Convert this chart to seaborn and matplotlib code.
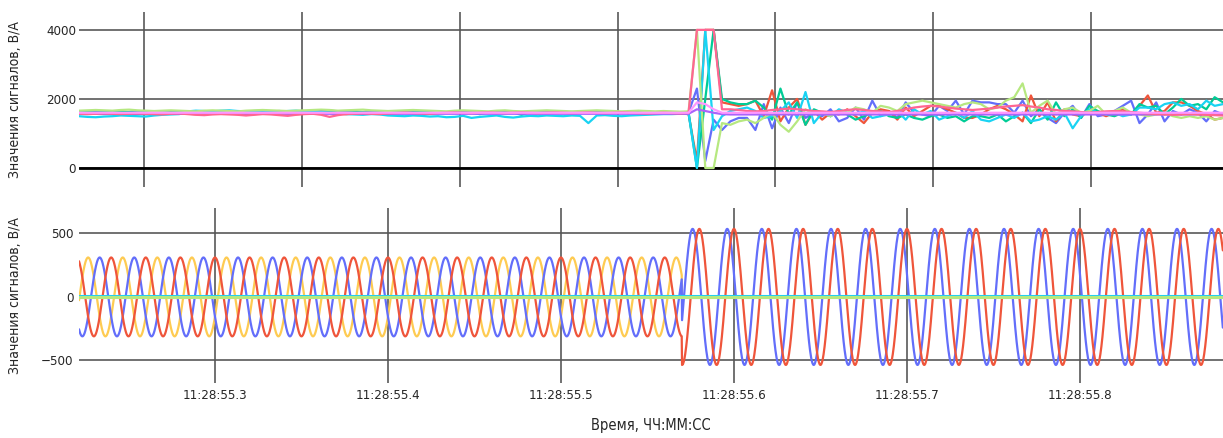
import numpy as np
import pandas as pd
import matplotlib
matplotlib.use("Agg")
import matplotlib.pyplot as plt
from matplotlib.ticker import FuncFormatter
import seaborn as sns

# ---- top panel: sample values (index = sample number) ----
blue = [1600,1610,1620,1630,1610,1600,1620,1640,1620,1610,
        1600,1610,1630,1620,1600,1610,1620,1630,1640,1620,
        1610,1600,1620,1640,1650,1630,1620,1610,1630,1650,
        1660,1640,1620,1610,1600,1620,1640,1630,1610,1600,
        1620,1630,1620,1610,1600,1610,1630,1640,1620,1600,
        1610,1620,1610,1600,1620,1630,1610,1600,1610,1620,
        1600,1610,1620,1630,1610,1600,1620,1610,1600,1610,
        1620,1610,1600,1610,
        2300,200,1400,1100,
        1350,1450,1450,1100,1850,1150,1750,1300,1900,1450,
        1600,1500,1700,1350,1450,1750,1400,1950,1500,1650,
        1450,1900,1600,1550,1500,1800,1650,1950,1550,1950,
        1900,1900,1850,1850,1600,1950,1500,1700,1450,1300,
        1600,1800,1450,1850,1500,1550,1650,1800,1950,1300,
        1550,1900,1350,1650,1550,1700,1600,1350,1650,1550]
red = [1580,1590,1580,1570,1580,1590,1580,1570,1560,1580,
       1590,1600,1580,1570,1560,1580,1600,1590,1580,1560,
       1550,1560,1580,1590,1600,1580,1560,1570,1590,1600,
       1590,1570,1560,1580,1600,1590,1570,1580,1600,1620,
       1600,1590,1580,1600,1620,1610,1590,1600,1610,1600,
       1590,1600,1620,1610,1600,1590,1600,1610,1620,1610,
       1600,1590,1600,1620,1610,1600,1590,1600,1610,1600,
       1590,1600,1580,1560,
       200,4000,4000,1900,
       1850,1800,1850,1950,1500,2250,1350,1750,2000,1250,
       1650,1400,1600,1550,1700,1500,1300,1600,1700,1650,
       1400,1750,1500,1650,1800,1800,1700,1600,1450,1450,
       1550,1700,1800,1700,1550,1350,2100,1500,1900,1350,
       1700,1550,1500,1650,1600,1500,1600,1700,1550,1800,
       2100,1600,1650,1900,1900,1800,1650,1550,1400,1450]
green = [1610,1620,1600,1610,1620,1630,1610,1600,1620,1610,
         1600,1610,1620,1610,1600,1620,1630,1620,1600,1610,
         1620,1610,1600,1610,1630,1620,1610,1600,1610,1620,
         1630,1610,1600,1620,1610,1600,1610,1620,1610,1600,
         1610,1630,1620,1600,1610,1620,1610,1600,1560,1610,
         1620,1600,1610,1540,1620,1610,1600,1610,1620,1610,
         1600,1610,1620,1610,1600,1610,1620,1610,1600,1610,
         1620,1610,1600,1600,
         0,2000,4000,2000,
         1900,1850,1850,1950,1750,1400,2300,1550,1900,1250,
         1700,1600,1500,1650,1550,1400,1500,1600,1650,1500,
         1450,1550,1450,1400,1500,1550,1450,1500,1350,1500,
         1500,1450,1550,1350,1500,1600,1300,1700,1400,1900,
         1500,1700,1450,1800,1650,1550,1500,1600,1550,1850,
         1750,1800,1550,1750,2000,1800,1850,1700,2050,1900]
cyan = [1500,1480,1470,1490,1500,1520,1510,1500,1490,1520,
        1540,1550,1560,1640,1660,1650,1640,1660,1670,1650,
        1640,1650,1660,1640,1630,1650,1660,1640,1630,1620,
        1600,1580,1560,1550,1540,1560,1550,1520,1510,1500,
        1520,1510,1490,1500,1470,1480,1510,1450,1480,1500,
        1520,1480,1460,1490,1510,1500,1520,1510,1500,1520,
        1510,1300,1520,1530,1510,1500,1520,1530,1540,1550,
        1560,1560,1570,1580,
        0,4000,1100,1500,
        1650,1700,1750,1650,1450,1500,1650,1900,1450,2200,
        1300,1600,1500,1700,1600,1550,1650,1450,1500,1550,
        1650,1400,1700,1550,1650,1400,1500,1600,1450,1650,
        1400,1350,1450,1550,1450,1600,1350,1400,1500,1400,
        1600,1150,1500,1700,1600,1550,1600,1500,1550,1750,
        1750,1700,1850,1900,1800,1850,1700,1950,1800,1850]
lightgreen = [1660,1670,1680,1670,1660,1680,1690,1670,1660,1650,
              1660,1670,1660,1650,1640,1660,1670,1660,1650,1640,
              1660,1670,1680,1670,1660,1650,1660,1670,1680,1690,
              1680,1660,1670,1680,1690,1670,1660,1650,1660,1670,
              1680,1670,1660,1650,1640,1660,1670,1660,1650,1640,
              1660,1670,1650,1640,1650,1660,1670,1660,1650,1640,
              1650,1660,1670,1660,1650,1640,1650,1660,1650,1640,
              1650,1640,1630,1640,
              4000,0,0,1300,
              1250,1350,1400,1300,1450,1600,1250,1050,1350,1700,
              1550,1600,1500,1650,1600,1750,1700,1600,1800,1750,
              1650,1850,1900,1950,1900,1850,1800,1750,1850,1900,
              1850,1700,1750,1950,2050,2450,1600,1800,1950,1550,
              1700,1750,1600,1650,1800,1550,1650,1750,1600,1550,
              1500,1550,1600,1500,1450,1500,1450,1500,1400,1450]
pink = [1570,1560,1570,1580,1570,1560,1570,1580,1570,1560,
        1550,1570,1580,1560,1540,1530,1550,1560,1550,1540,
        1520,1540,1560,1550,1530,1510,1540,1560,1570,1540,
        1480,1530,1560,1570,1580,1570,1560,1580,1590,1600,
        1590,1580,1570,1590,1600,1610,1600,1590,1600,1610,
        1600,1590,1600,1610,1600,1590,1600,1610,1600,1590,
        1600,1610,1600,1590,1600,1610,1600,1590,1580,1590,
        1600,1590,1580,1600,
        4000,4000,4000,1700,
        1700,1680,1650,1640,1650,1680,1700,1720,1700,1680,
        1650,1640,1620,1650,1680,1700,1680,1650,1640,1620,
        1650,1700,1750,1780,1800,1780,1750,1720,1700,1680,
        1700,1720,1750,1780,1800,1820,1780,1750,1700,1680,
        1650,1640,1620,1600,1620,1640,1650,1640,1620,1600,
        1580,1560,1550,1540,1550,1560,1550,1540,1530,1520]
purple = [1570] * 74 + [1700, 1650, 1600, 1560] + [1550] * 60
violet = [1600] * 74 + [1900, 1850, 1700, 1600] + [1600] * 60

top_series = {"blue": blue, "red": red, "green": green, "cyan": cyan,
              "lightgreen": lightgreen, "purple": purple, "pink": pink,
              "violet": violet}
top_colors = {"blue": "#636EFA", "red": "#EF553B", "green": "#00CC96",
              "cyan": "#19D3F3", "lightgreen": "#B6E880", "purple": "#AB63FA",
              "pink": "#FF6692", "violet": "#FF97FF"}

# ---- bottom panel: 50 Hz phases, read amplitudes / phase shifts ----
t_start, t_end = 55.2214, 55.8827      # seconds of 11:28
t_switch = 55.5699
freq = 50.0
t_ref = 55.3                           # red peak
amp_before = {"yellow": 310, "blue": 310, "red": 310}
amp_after = {"yellow": 0, "blue": 535, "red": 535}
shift_before = {"yellow": -120, "blue": 120, "red": 0}   # degrees
shift_after = {"yellow": 0, "blue": 70, "red": 0}
bot_colors = {"yellow": "#FECB52", "blue": "#636EFA", "red": "#EF553B"}
flat_lines = {"cyan0": 6, "pink0": -4, "green0": 0}
flat_colors = {"cyan0": "#19D3F3", "pink0": "#FF6692", "green0": "#B6E880"}

# ---- build frames ----
top_df = pd.concat([pd.DataFrame({"n": np.arange(len(v)), "val": v, "sig": k})
                    for k, v in top_series.items()], ignore_index=True)

t = np.arange(t_start, t_end, 0.0002)
before = t < t_switch
rows = []
for ph in ["yellow", "blue", "red"]:
    amp = np.where(before, amp_before[ph], amp_after[ph])
    sh = np.where(before, shift_before[ph], shift_after[ph])
    v = amp * np.cos(2 * np.pi * freq * (t - t_ref) + np.deg2rad(sh))
    rows.append(pd.DataFrame({"t": t, "val": v, "ph": ph}))
bot_df = pd.concat(rows, ignore_index=True)
flat_df = pd.concat([pd.DataFrame({"t": [t_start, t_end], "val": [v, v], "ph": k})
                     for k, v in flat_lines.items()], ignore_index=True)

# ---- plot ----
sns.set_style("white")
plt.rcParams["font.family"] = ["DejaVu Sans"]
plt.rcParams["font.stretch"] = "condensed"

fig = plt.figure(figsize=(12.23, 4.38), dpi=100)
ax1 = fig.add_axes([0.0646, 0.573, 0.9354, 0.400])
ax2 = fig.add_axes([0.0646, 0.1256, 0.9354, 0.400])

grid_kw = dict(color="#555555", linewidth=1.3, alpha=0.9)

sns.lineplot(data=top_df, x="n", y="val", hue="sig", palette=top_colors,
             hue_order=list(top_series), estimator=None, sort=False,
             legend=False, linewidth=1.6, ax=ax1)
ax1.set_xlim(0, 137)
ax1.set_ylim(-551, 4522)
ax1.set_xticks(np.arange(7.8, 137, 18.9))
ax1.set_yticks([0, 2000, 4000])
ax1.tick_params(labelbottom=False, length=0, pad=2, labelsize=9.5)
ax1.grid(True, **grid_kw)
ax1.axhline(0, color="black", linewidth=2, zorder=1.5)
ax1.set_xlabel("")
ax1.set_ylabel("Значения сигналов, В/А", fontsize=10)

sns.lineplot(data=bot_df, x="t", y="val", hue="ph", palette=bot_colors,
             hue_order=["yellow", "blue", "red"], estimator=None, sort=False,
             legend=False, linewidth=1.6, ax=ax2)
sns.lineplot(data=flat_df, x="t", y="val", hue="ph", palette=flat_colors,
             hue_order=list(flat_lines), estimator=None, sort=False,
             legend=False, linewidth=2.2, ax=ax2)
ax2.set_xlim(t_start, t_end)
ax2.set_ylim(-677, 701)
ax2.set_xticks(np.arange(55.3, 55.85, 0.1))
ax2.set_yticks([-500, 0, 500])
ax2.xaxis.set_major_formatter(FuncFormatter(lambda x, p: f"11:28:{x:04.1f}"))
ax2.tick_params(length=0, pad=4, labelsize=9.5)
ax2.grid(True, **grid_kw)
ax2.set_xlabel("Время, ЧЧ:ММ:СС", fontsize=10.5, labelpad=12)
ax2.set_ylabel("Значения сигналов, В/А", fontsize=10)

for ax in (ax1, ax2):
    for s in ax.spines.values():
        s.set_visible(False)
    ax.yaxis.set_label_coords(-0.05, 0.5)

fig.savefig("out.png", dpi=100)
